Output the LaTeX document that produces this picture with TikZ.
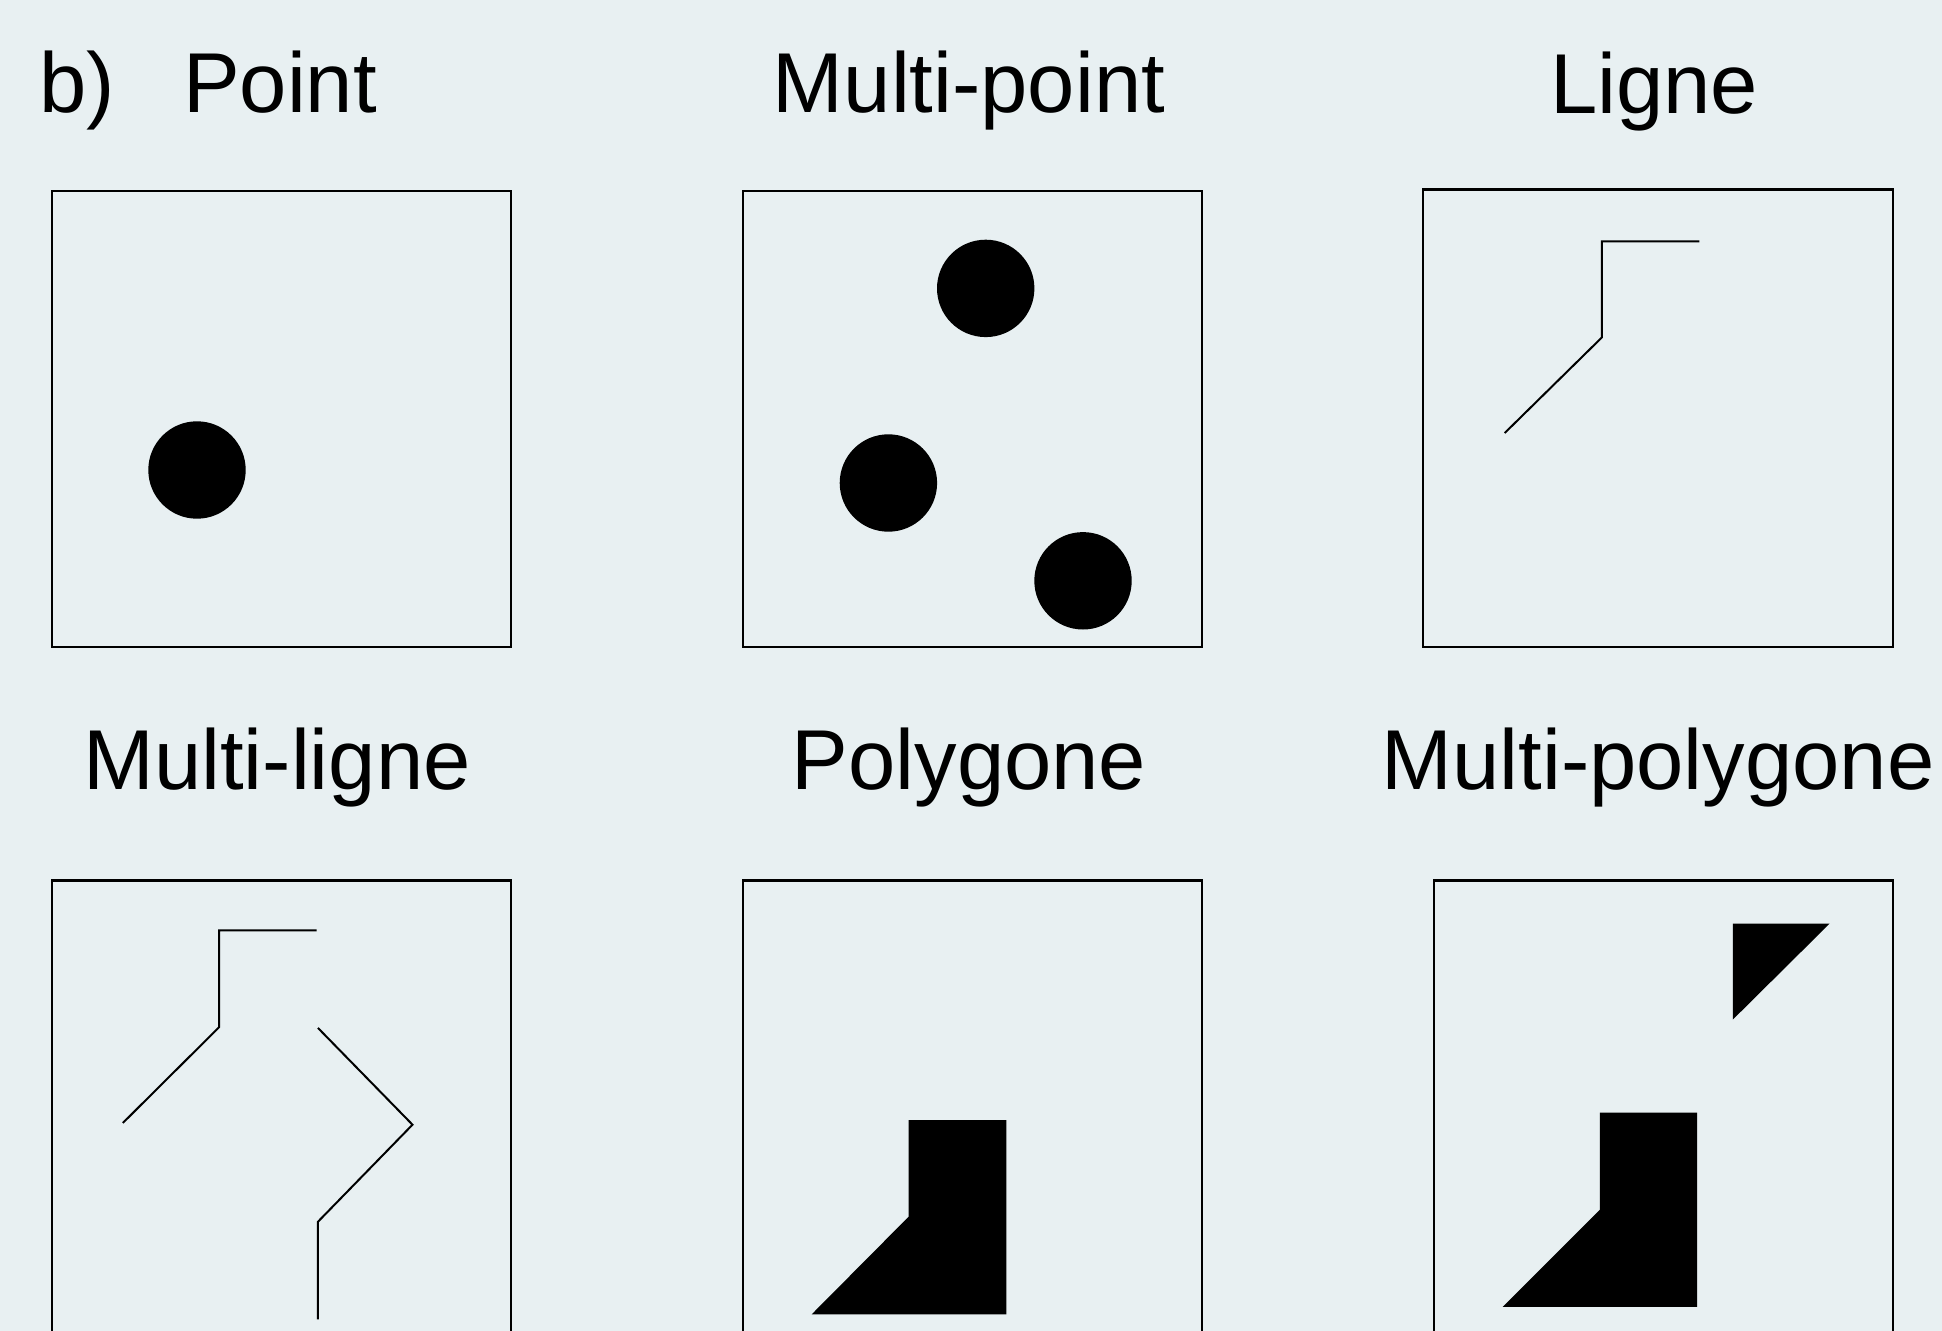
\documentclass[tikz,border=0pt]{standalone}
\usepackage{fontspec}
\setmainfont{Liberation Sans}
\definecolor{bg}{RGB}{232,240,242}
\begin{document}
\begin{tikzpicture}[x=0.5pt,y=-0.5pt,
  frame/.style={draw=black,line width=1.35pt},
  geom/.style={draw=black,line width=1pt,line join=miter},
  blob/.style={fill=black},
  lbl/.style={anchor=base,inner sep=0pt,font=\fontsize{42.5pt}{51pt}\selectfont}]
\path[use as bounding box, fill=bg] (0,0) rectangle (1942,1331);
\begin{scope}
\clip (0,0) rectangle (1942,1331);
% labels
\node[lbl] (tb) at (77,113) {b)};
\node[lbl] (t1) at (280,113) {Point};
\node[lbl] (t2) at (969,113) {Multi-point};
\node[lbl] (t3) at (1654,114) {Ligne};
\node[lbl] (t4) at (277,789) {Multi-ligne};
\node[lbl] (t5) at (969,789) {Polygone};
\node[lbl] (t6) at (1658,789) {Multi-polygone};
% frames
\draw[frame] (52,191) rectangle (511,647);
\draw[frame] (743,191) rectangle (1202,647);
\draw[frame] (1423,189.5) rectangle (1893,647);
\draw[frame] (52,880.5) rectangle (511,1337);
\draw[frame] (743,880.5) rectangle (1202,1337);
\draw[frame] (1434,880.5) rectangle (1893,1337);
% point
\fill[blob] (197,470) circle[radius=48.7];
% multi-point
\fill[blob] (985.7,288.4) circle[radius=48.7];
\fill[blob] (888.4,483) circle[radius=48.7];
\fill[blob] (1083,580.8) circle[radius=48.7];
% ligne
\draw[geom] (1504.7,433) -- (1601.8,337.5) -- (1601.8,241.5) -- (1699.3,241.5);
% multi-ligne
\draw[geom] (122.8,1123) -- (219.2,1027.1) -- (219.2,930.4) -- (316.5,930.4);
\draw[geom] (317.9,1027.9) -- (412.5,1124.7) -- (317.9,1221.8) -- (317.9,1319.4);
% polygone
\fill[blob] (908.5,1120.1) -- (1006.3,1120.1) -- (1006.3,1314.4) -- (811.6,1314.4) -- (908.5,1216.8) -- cycle;
% multi-polygone
\fill[blob] (1732.8,923.7) -- (1829.5,923.7) -- (1732.8,1019.6) -- cycle;
\fill[blob] (1599.8,1112.6) -- (1697.2,1112.6) -- (1697.2,1306.9) -- (1502.7,1306.9) -- (1599.8,1209.8) -- cycle;
\end{scope}
\end{tikzpicture}
\end{document}
